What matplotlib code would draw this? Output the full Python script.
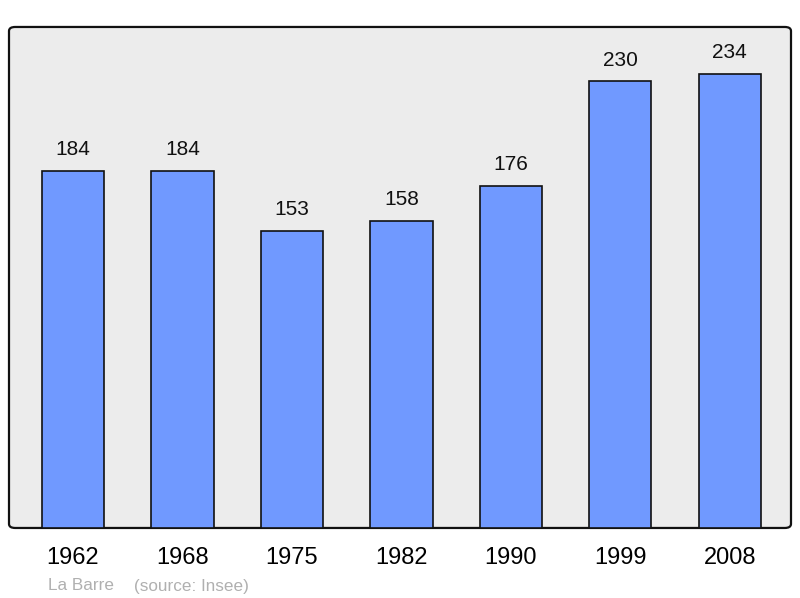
import matplotlib
matplotlib.use("Agg")
import matplotlib.pyplot as plt
from matplotlib.patches import FancyBboxPatch

years = ["1962", "1968", "1975", "1982", "1990", "1999", "2008"]
population = [184, 184, 153, 158, 176, 230, 234]
place = "La Barre"
source = "(source: Insee)"

plt.rcParams['font.family'] = ['Liberation Sans', 'DejaVu Sans']

fig = plt.figure(figsize=(8.0, 5.98), dpi=100)
ax = fig.add_axes([0.01125, 0.1171, 0.9775, 0.8378])
ax.set_facecolor("none")

frame = FancyBboxPatch((0, 0), 1, 1, boxstyle="round,pad=0,rounding_size=0.008",
                       transform=ax.transAxes, facecolor="#ececec",
                       edgecolor="#111111", linewidth=1.6, zorder=0, clip_on=False)
ax.add_patch(frame)

x = list(range(len(years)))
ax.bar(x, population, width=0.57, color="#7099ff", edgecolor="#111111",
       linewidth=1.2, zorder=2)
for xi, v in zip(x, population):
    ax.annotate(str(v), (xi, v), xytext=(0, 8.5), textcoords="offset points",
                ha="center", va="bottom", fontsize=15, color="#111111")

ax.set_xlim(-0.585, 6.56)
ax.set_ylim(0, 258)
for s in ax.spines.values():
    s.set_visible(False)
ax.set_yticks([])
ax.set_xticks(x)
ax.set_xticklabels(years, fontsize=17)
ax.tick_params(axis="x", length=0, pad=14)

fig.text(48/800, 1-586/598, place, fontsize=12.3, color="#b0b0b0", ha="left", va="center")
fig.text(134/800, 1-586/598, source, fontsize=12.3, color="#b0b0b0", ha="left", va="center")

fig.savefig("out.png", dpi=100)
